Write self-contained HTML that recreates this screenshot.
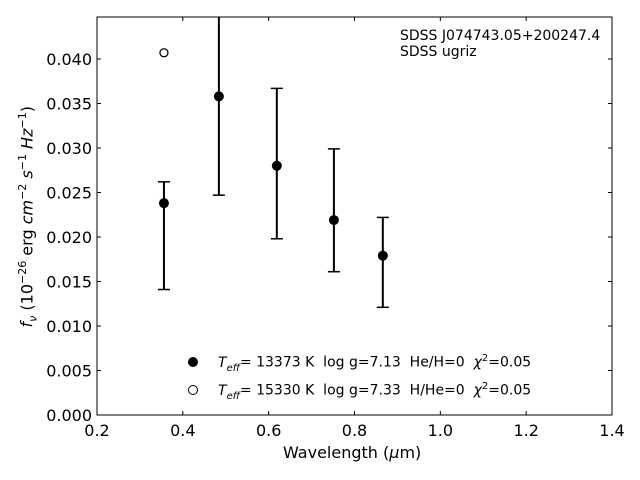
<!DOCTYPE html>
<html><head><meta charset="utf-8"><style>
body{margin:0;background:#fff;}
svg{display:block;font-family:"DejaVu Sans","Liberation Sans",sans-serif;}
</style></head><body>
<svg id="chart" width="640" height="480" viewBox="0 0 640 480"></svg>
<script>
const wavelengths=[0.356,0.484,0.619,0.752,0.866];
const fluxValues=[0.0238,0.0358,0.0280,0.0219,0.0179];
const errLow=[0.0141,0.0247,0.0198,0.0161,0.0121];
const errHigh=[0.0262,0.0455,0.0367,0.0299,0.0222];
const modelWl=[0.356];
const modelFlux=[0.0407];
const xTicks=[0.2,0.4,0.6,0.8,1.0,1.2,1.4];
const yTicks=[0,0.005,0.010,0.015,0.020,0.025,0.030,0.035,0.040];
const L=97,R=612,T=17,B=415,xmin=0.2,xmax=1.4,ymin=0,ymax=0.04472;
const sx=v=>L+(v-xmin)/(xmax-xmin)*(R-L);
const sy=v=>B-(v-ymin)/(ymax-ymin)*(B-T);
const svg=document.getElementById('chart');
const NS='http://www.w3.org/2000/svg';
function mk(tag,attrs,parent){const e=document.createElementNS(NS,tag);for(const k in attrs)e.setAttribute(k,attrs[k]);(parent||svg).appendChild(e);return e;}
const defs=mk('defs',{});const cp=mk('clipPath',{id:'clip'},defs);mk('rect',{x:L,y:T,width:R-L,height:B-T},cp);
const frame=mk('rect',{x:L,y:T,width:R-L,height:B-T,fill:'none',stroke:'#000','stroke-width':1});


xTicks.forEach(t=>{const x=sx(t);
 mk('line',{x1:x,y1:B,x2:x,y2:B-4,stroke:'#000'});mk('line',{x1:x,y1:T,x2:x,y2:T+4,stroke:'#000'});
 const tx=mk('text',{x:x,y:B+21,'text-anchor':'middle','font-size':16});tx.textContent=t.toFixed(1);
 
 });
yTicks.forEach(t=>{const y=sy(t);
 mk('line',{x1:L,y1:y,x2:L+4,y2:y,stroke:'#000'});mk('line',{x1:R,y1:y,x2:R-4,y2:y,stroke:'#000'});
 const tx=mk('text',{x:L-5,y:y+6,'text-anchor':'end','font-size':16});tx.textContent=t.toFixed(3);
 
 });
const g=mk('g',{'clip-path':'url(#clip)'});
wavelengths.forEach((w,i)=>{const x=sx(w);
 const eb=mk('g',{},g);
 
 
 mk('line',{x1:x,y1:sy(errLow[i]),x2:x,y2:sy(errHigh[i]),stroke:'#000','stroke-width':2},eb);
 [errLow[i],errHigh[i]].forEach(v=>mk('line',{x1:x-6,y1:sy(v),x2:x+6,y2:sy(v),stroke:'#000','stroke-width':1.5},eb));
 const c=mk('circle',{cx:x,cy:sy(fluxValues[i]),r:5,fill:'#000'},g);
 
 });
modelWl.forEach((w,i)=>{const c=mk('circle',{cx:sx(w),cy:sy(modelFlux[i]),r:4,fill:'#fff',stroke:'#000','stroke-width':1.3},g);
 
 });
</script>
<div style="position:absolute;left:0;top:0;width:640px;height:480px;font-family:'DejaVu Sans','Liberation Sans',sans-serif;pointer-events:none">
<div style="position:absolute;left:400px;top:28px;font-size:14px;line-height:16px">SDSS J074743.05+200247.4<br>SDSS ugriz</div>
<div style="position:absolute;left:283px;top:443px;font-size:16px">Wavelength (<i>μ</i>m)</div>
<div style="position:absolute;left:-112px;top:205px;width:280px;text-align:center;font-size:16px;transform:rotate(-90deg)"><i>f<sub style="font-size:11px">ν</sub></i> (10<sup style="font-size:11px">−26</sup> erg <i>cm</i><sup style="font-size:11px">−2</sup> <i>s</i><sup style="font-size:11px">−1</sup> <i>Hz</i><sup style="font-size:11px">−1</sup>)</div>
<div style="position:absolute;left:188px;top:353px;font-size:14px;white-space:pre"><span style="display:inline-block;width:10px;height:10px;border-radius:50%;background:#000;margin-right:20px"></span><i>T<sub style="font-size:10px">eff</sub></i>= 13373 K  log g=7.13  He/H=0  <i>χ</i><sup style="font-size:10px">2</sup>=0.05</div>
<div style="position:absolute;left:188px;top:381px;font-size:14px;white-space:pre"><span style="display:inline-block;width:8px;height:8px;border-radius:50%;border:1.3px solid #000;margin-right:20px"></span><i>T<sub style="font-size:10px">eff</sub></i>= 15330 K  log g=7.33  H/He=0  <i>χ</i><sup style="font-size:10px">2</sup>=0.05</div>
</div>
</body></html>
